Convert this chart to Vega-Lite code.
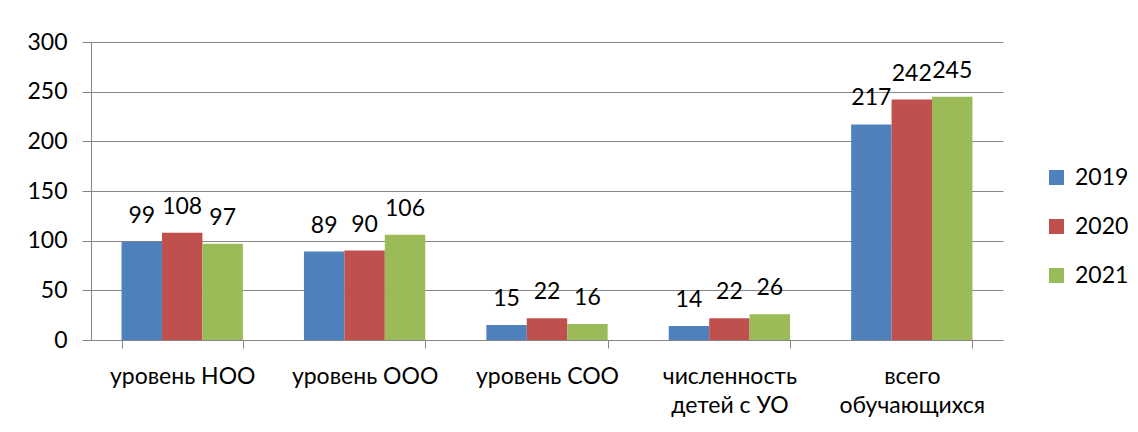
{
  "$schema": "https://vega.github.io/schema/vega-lite/v6.json",
  "autosize": {"type": "none"},
  "width": 912,
  "height": 298,
  "padding": {"left": 91, "top": 42, "right": 135, "bottom": 92},
  "background": "white",
  "config": {
    "font": "Lato",
    "view": {"stroke": null},
    "axis": {"labelFont": "Lato", "labelColor": "black", "labelFontSize": 23, "domainColor": "#868686", "tickColor": "#868686", "gridColor": "#868686", "title": null},
    "legend": {"labelFont": "Lato", "labelColor": "black"}
  },
  "data": {
    "values": [
      {"cat": "уровень НОО", "year": "2019", "value": 99},
      {"cat": "уровень НОО", "year": "2020", "value": 108},
      {"cat": "уровень НОО", "year": "2021", "value": 97},
      {"cat": "уровень ООО", "year": "2019", "value": 89},
      {"cat": "уровень ООО", "year": "2020", "value": 90},
      {"cat": "уровень ООО", "year": "2021", "value": 106},
      {"cat": "уровень СОО", "year": "2019", "value": 15},
      {"cat": "уровень СОО", "year": "2020", "value": 22},
      {"cat": "уровень СОО", "year": "2021", "value": 16},
      {"cat": "численность детей с УО", "year": "2019", "value": 14},
      {"cat": "численность детей с УО", "year": "2020", "value": 22},
      {"cat": "численность детей с УО", "year": "2021", "value": 26},
      {"cat": "всего обучающихся", "year": "2019", "value": 217},
      {"cat": "всего обучающихся", "year": "2020", "value": 242},
      {"cat": "всего обучающихся", "year": "2021", "value": 245}
    ]
  },
  "encoding": {
    "x": {
      "field": "cat", "type": "nominal", "sort": null,
      "scale": {"paddingInner": 0.335, "paddingOuter": 0.1675},
      "axis": {
        "labelAngle": 0, "tickBand": "extent", "tickSize": 8, "labelPadding": 17,
        "labelLineHeight": 29,
        "labelExpr": "datum.label == 'численность детей с УО' ? ['численность', 'детей с УО'] : datum.label == 'всего обучающихся' ? ['всего', 'обучающихся'] : datum.label"
      }
    },
    "xOffset": {"field": "year", "type": "nominal", "scale": {"paddingInner": 0, "paddingOuter": 0}},
    "y": {
      "field": "value", "type": "quantitative",
      "scale": {"domain": [0, 300], "nice": false},
      "axis": {"values": [0, 50, 100, 150, 200, 250, 300], "tickSize": 9, "labelPadding": 15, "grid": true}
    }
  },
  "layer": [
    {
      "mark": {"type": "bar"},
      "encoding": {
        "color": {
          "field": "year", "type": "nominal",
          "scale": {"domain": ["2019", "2020", "2021"], "range": ["#4F81BD", "#C0504D", "#9BBB59"]},
          "legend": {
            "title": null, "orient": "none", "legendX": 954, "legendY": 124,
            "symbolType": "square", "symbolSize": 225, "symbolStrokeWidth": 0,
            "labelFontSize": 23, "labelOffset": 7, "rowPadding": 25
          }
        }
      }
    },
    {
      "mark": {"type": "text", "baseline": "alphabetic", "dy": -19, "fontSize": 23, "color": "black"},
      "encoding": {"text": {"field": "value", "type": "quantitative"}}
    }
  ]
}
